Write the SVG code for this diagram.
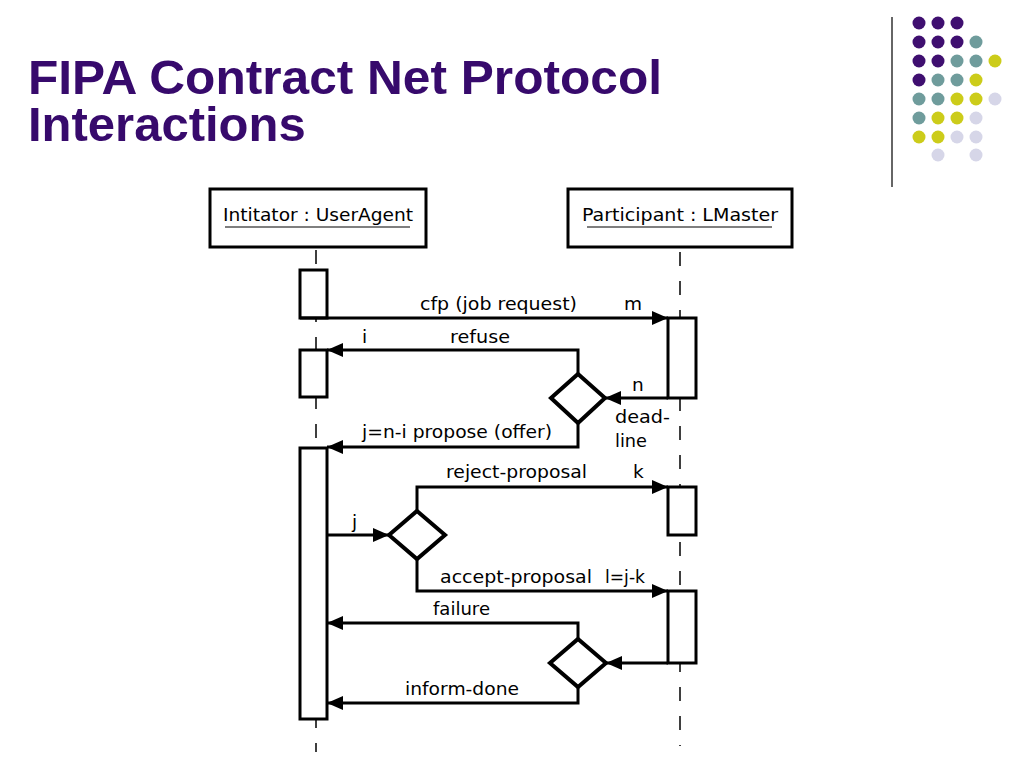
<svg xmlns="http://www.w3.org/2000/svg" width="1024" height="768" viewBox="0 0 1024 768">
<style>
.title{font-family:"Liberation Sans",Arial,sans-serif;font-weight:bold;font-size:49px;fill:#370a6c}
.lbl{font-family:"DejaVu Sans",Verdana,sans-serif;font-size:18.5px;fill:#000}
.hdr{font-family:"DejaVu Sans Condensed","DejaVu Sans",sans-serif;font-size:17px;fill:#000}
.box{fill:#fff;stroke:#000;stroke-width:3}
.act{fill:#fff;stroke:#000;stroke-width:3}
.life{stroke:#000;stroke-width:1.5;stroke-dasharray:14 15;fill:none}
.msg{stroke:#000;stroke-width:3;fill:none}
.dia{fill:#fff;stroke:#000;stroke-width:4}
.p{fill:#3f0f70}.t{fill:#6f9c9c}.y{fill:#cccc1a}.l{fill:#d6d6e8}
</style>
<defs>
<marker id="ah" viewBox="0 0 16 14" refX="16" refY="7" markerWidth="16" markerHeight="14" markerUnits="userSpaceOnUse" orient="auto">
<path d="M0,0 L16,7 L0,14 Z" fill="#000"/>
</marker>
</defs>
<rect width="1024" height="768" fill="#fff"/>
<text class="title" x="28" y="94"><tspan x="28" y="94" textLength="634" lengthAdjust="spacingAndGlyphs">FIPA Contract Net Protocol</tspan><tspan x="28" y="141">Interactions</tspan></text>
<g id="decor">
<line x1="892" y1="17" x2="892" y2="187" stroke="#333" stroke-width="1.5"/>
<circle class="p" cx="919" cy="23" r="6.5"/><circle class="p" cx="938" cy="23" r="6.5"/><circle class="p" cx="957" cy="23" r="6.5"/>
<circle class="p" cx="919" cy="42" r="6.5"/><circle class="p" cx="938" cy="42" r="6.5"/><circle class="p" cx="957" cy="42" r="6.5"/><circle class="t" cx="976" cy="42" r="6.5"/>
<circle class="p" cx="919" cy="61" r="6.5"/><circle class="p" cx="938" cy="61" r="6.5"/><circle class="t" cx="957" cy="61" r="6.5"/><circle class="t" cx="976" cy="61" r="6.5"/><circle class="y" cx="995" cy="61" r="6.5"/>
<circle class="p" cx="919" cy="80" r="6.5"/><circle class="t" cx="938" cy="80" r="6.5"/><circle class="t" cx="957" cy="80" r="6.5"/><circle class="y" cx="976" cy="80" r="6.5"/>
<circle class="t" cx="919" cy="99" r="6.5"/><circle class="t" cx="938" cy="99" r="6.5"/><circle class="y" cx="957" cy="99" r="6.5"/><circle class="y" cx="976" cy="99" r="6.5"/><circle class="l" cx="995" cy="99" r="6.5"/>
<circle class="t" cx="919" cy="118" r="6.5"/><circle class="y" cx="938" cy="118" r="6.5"/><circle class="y" cx="957" cy="118" r="6.5"/><circle class="l" cx="976" cy="118" r="6.5"/>
<circle class="y" cx="919" cy="137" r="6.5"/><circle class="y" cx="938" cy="137" r="6.5"/><circle class="l" cx="957" cy="137" r="6.5"/><circle class="l" cx="976" cy="137" r="6.5"/>
<circle class="l" cx="938" cy="155" r="6.5"/><circle class="l" cx="976" cy="155" r="6.5"/>
</g>
<g id="lifelines">
<line class="life" x1="316" y1="250" x2="316" y2="752"/>
<line class="life" x1="680" y1="252" x2="680" y2="746"/>
</g>
<g id="initiator">
<rect class="box" x="210" y="189" width="216" height="58"/>
<text class="hdr" x="318" y="221" text-anchor="middle" textLength="190" lengthAdjust="spacingAndGlyphs">Intitator : UserAgent</text>
<line x1="225" y1="227" x2="410" y2="227" stroke="#000" stroke-width="1.2"/>
</g>
<g id="participant">
<rect class="box" x="568" y="189" width="224" height="58"/>
<text class="hdr" x="680" y="221" text-anchor="middle" textLength="196" lengthAdjust="spacingAndGlyphs">Participant : LMaster</text>
<line x1="587" y1="227" x2="772" y2="227" stroke="#000" stroke-width="1.2"/>
</g>
<g id="activations">
<rect class="act" x="300" y="270" width="27" height="48"/>
<rect class="act" x="300" y="350" width="27" height="47"/>
<rect class="act" x="300" y="448" width="27" height="271"/>
<rect class="act" x="668" y="318" width="28" height="80"/>
<rect class="act" x="668" y="487" width="28" height="48"/>
<rect class="act" x="668" y="591" width="28" height="72"/>
</g>
<g id="decision1"><polygon class="dia" points="578,374 605,398 578,423 551,398"/></g>
<g id="decision2"><polygon class="dia" points="417,511 445,535 417,559 389,535"/></g>
<g id="decision3"><polygon class="dia" points="578,639 606,663 578,687 550,663"/></g>
<g id="connectors">
<path class="msg" d="M300,318 H668" marker-end="url(#ah)"/>
<path class="msg" d="M578,374 V350 H327" marker-end="url(#ah)"/>
<path class="msg" d="M668,398 H605" marker-end="url(#ah)"/>
<path class="msg" d="M578,423 V447 H327" marker-end="url(#ah)"/>
<path class="msg" d="M327,535 H389" marker-end="url(#ah)"/>
<path class="msg" d="M417,511 V487 H668" marker-end="url(#ah)"/>
<path class="msg" d="M417,559 V591 H668" marker-end="url(#ah)"/>
<path class="msg" d="M668,663 H606" marker-end="url(#ah)"/>
<path class="msg" d="M578,639 V623 H327" marker-end="url(#ah)"/>
<path class="msg" d="M578,687 V703 H327" marker-end="url(#ah)"/>
</g>
<g id="labels">
<text class="lbl" x="420" y="310" textLength="157" lengthAdjust="spacingAndGlyphs">cfp (job request)</text>
<text class="lbl" x="624" y="310">m</text>
<text class="lbl" x="362" y="343">i</text>
<text class="lbl" x="450" y="343" textLength="60" lengthAdjust="spacingAndGlyphs">refuse</text>
<text class="lbl" x="632" y="391">n</text>
<text class="lbl" x="615" y="423" textLength="55" lengthAdjust="spacingAndGlyphs">dead-</text>
<text class="lbl" x="615" y="447" textLength="32" lengthAdjust="spacingAndGlyphs">line</text>
<text class="lbl" x="362" y="438" textLength="190" lengthAdjust="spacingAndGlyphs">j=n-i propose (offer)</text>
<text class="lbl" x="446" y="478" textLength="141" lengthAdjust="spacingAndGlyphs">reject-proposal</text>
<text class="lbl" x="633" y="478">k</text>
<text class="lbl" x="352" y="528">j</text>
<text class="lbl" x="440" y="583" textLength="152" lengthAdjust="spacingAndGlyphs">accept-proposal</text>
<text class="lbl" x="605" y="583" textLength="40" lengthAdjust="spacingAndGlyphs">l=j-k</text>
<text class="lbl" x="433" y="615" textLength="57" lengthAdjust="spacingAndGlyphs">failure</text>
<text class="lbl" x="405" y="695" textLength="114" lengthAdjust="spacingAndGlyphs">inform-done</text>
</g>
</svg>
